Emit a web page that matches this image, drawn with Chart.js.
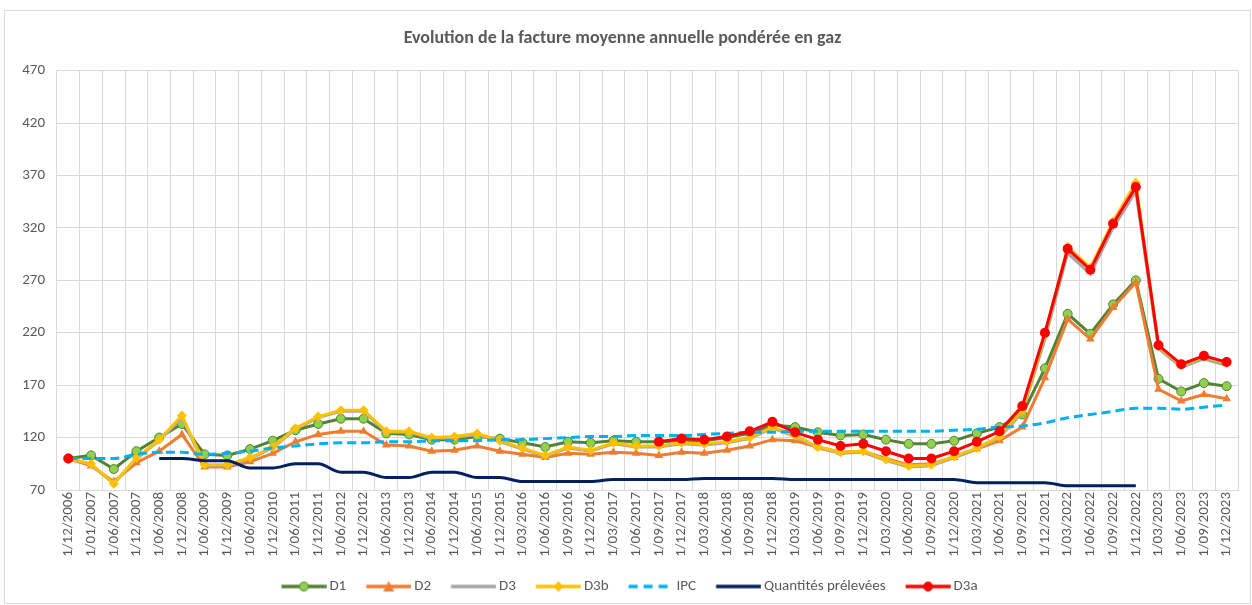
<!DOCTYPE html>
<html>
<head>
<meta charset="utf-8">
<script src="https://cdn.jsdelivr.net/npm/chart.js@4.4.1/dist/chart.umd.min.js"></script>
<style>
  html, body { margin: 0; padding: 0; background: #fff; }
  #wrap { width: 1252px; height: 605px; position: relative; }
</style>
</head>
<body>
<div id="wrap"><canvas id="chart"></canvas></div>
<script>
const LABELS = [
  "1/12/2006", "1/01/2007", "1/06/2007", "1/12/2007", "1/06/2008", "1/12/2008",
  "1/06/2009", "1/12/2009", "1/06/2010", "1/12/2010", "1/06/2011", "1/12/2011",
  "1/06/2012", "1/12/2012", "1/06/2013", "1/12/2013", "1/06/2014", "1/12/2014",
  "1/06/2015", "1/12/2015", "1/03/2016", "1/06/2016", "1/09/2016", "1/12/2016",
  "1/03/2017", "1/06/2017", "1/09/2017", "1/12/2017", "1/03/2018", "1/06/2018",
  "1/09/2018", "1/12/2018", "1/03/2019", "1/06/2019", "1/09/2019", "1/12/2019",
  "1/03/2020", "1/06/2020", "1/09/2020", "1/12/2020", "1/03/2021", "1/06/2021",
  "1/09/2021", "1/12/2021", "1/03/2022", "1/06/2022", "1/09/2022", "1/12/2022",
  "1/03/2023", "1/06/2023", "1/09/2023", "1/12/2023",
];

const D1 = [
  100, 103, 90, 107, 120, 133, 104, 103, 109, 117, 127, 133,
  138, 138, 124, 123, 118, 118, 121, 119, 115, 111, 116, 115,
  117, 116, 116, 117, 117, 120, 124, 132, 130, 125, 122, 123,
  118, 114, 114, 117, 124, 130, 142, 186, 238, 219, 247, 270,
  176, 164, 172, 169,
];

const D2 = [
  100, 93, 78, 96, 107, 123, 92, 92, 97, 105, 116, 123,
  126, 126, 113, 112, 107, 108, 112, 107, 104, 101, 105, 104,
  106, 105, 103, 106, 105, 108, 112, 118, 117, 111, 106, 107,
  100, 94, 95, 101, 109, 117, 130, 177, 233, 214, 244, 268,
  166, 155, 161, 157,
];

const D3 = [
  100, 94, 76, 100, 117, 139, 93, 93, 100, 110, 128, 139,
  145, 145, 125, 125, 119, 120, 123, 116, 109, 102, 110, 107,
  114, 111, 111, 114, 113, 115, 119, 129, 121, 110, 105, 106,
  98, 92, 93, 101, 109, 120, 144, 214, 296, 276, 320, 355,
  205, 187, 195, 189,
];

const D3B = [
  100, 95, 76, 101, 118, 141, 94, 94, 101, 111, 129, 140,
  146, 146, 126, 126, 120, 121, 124, 117, 110, 103, 111, 108,
  115, 112, 112, 115, 114, 116, 120, 130, 122, 111, 106, 107,
  99, 93, 94, 102, 110, 121, 146, 218, 302, 282, 326, 363,
  207, 189, 197, 191,
];

const IPC = [
  100, 100, 100, 104, 106, 106, 104, 105, 107, 110, 112, 114,
  115, 115, 116, 116, 117, 117, 117, 118, 118, 119, 120, 121,
  121, 122, 122, 122, 123, 124, 125, 125, 126, 126, 126, 126,
  126, 126, 126, 127, 128, 130, 131, 134, 139, 142, 145, 148,
  148, 147, 149, 151,
];

const QUANTITES = [
  null, null, null, null, 100, 100, 98, 98, 91, 91, 95, 95,
  87, 87, 82, 82, 87, 87, 82, 82, 78, 78, 78, 78,
  80, 80, 80, 80, 81, 81, 81, 81, 80, 80, 80, 80,
  80, 80, 80, 80, 77, 77, 77, 77, 74, 74, 74, 74,
  null, null, null, null,
];

const D3A = [
  100, null, null, null, null, null, null, null, null, null, null, null,
  null, null, null, null, null, null, null, null, null, null, null, null,
  null, null, 116, 119, 118, 121, 126, 135, 125, 118, 112, 114,
  107, 100, 100, 107, 116, 126, 150, 220, 300, 280, 324, 359,
  208, 190, 198, 192,
];

const Y_TICKS = [70, 120, 170, 220, 270, 320, 370, 420, 470];

const TEXT_COLOR = "#595959";
const GRID_COLOR = "#d9d9d9";
const FONT_FAMILY = "Calibri, Carlito, 'Liberation Sans', Arial, sans-serif";

// legend sample: short line with the marker in the middle, like Excel.
// the image is wider than the drawn sample so the gaps come out right
const ICON_W = 64;
const ICON_X0 = 18.75;

function legendIcon(color, marker, fill, dash) {
  const c = document.createElement("canvas");
  c.width = ICON_W;
  c.height = 12;
  const ctx = c.getContext("2d");
  const x0 = ICON_X0;
  const mid = x0 + 22.5;
  ctx.strokeStyle = color;
  ctx.lineWidth = 3.5;
  if (dash) ctx.setLineDash(dash);
  ctx.beginPath();
  ctx.moveTo(x0, 6);
  ctx.lineTo(x0 + 45, 6);
  ctx.stroke();
  ctx.setLineDash([]);
  ctx.fillStyle = fill || color;
  ctx.lineWidth = 1;
  if (marker === "circle") {
    ctx.beginPath();
    ctx.arc(mid, 6, 4.5, 0, Math.PI * 2);
    ctx.fill();
    ctx.stroke();
  } else if (marker === "triangle") {
    ctx.beginPath();
    ctx.moveTo(mid, 0.5);
    ctx.lineTo(mid + 5.5, 11);
    ctx.lineTo(mid - 5.5, 11);
    ctx.closePath();
    ctx.fill();
  } else if (marker === "diamond") {
    ctx.beginPath();
    ctx.moveTo(mid, 0.5);
    ctx.lineTo(mid + 5, 6);
    ctx.lineTo(mid, 11.5);
    ctx.lineTo(mid - 5, 6);
    ctx.closePath();
    ctx.fill();
  }
  return c;
}

const ICONS = [
  legendIcon("#548235", "circle", "#8fd14f"),
  legendIcon("#ed7d31", "triangle"),
  legendIcon("#a5a5a5", null),
  legendIcon("#ffc000", "diamond"),
  legendIcon("#00b0f0", null, null, [9, 6]),
  legendIcon("#002060", null),
  legendIcon("#ff0000", "circle"),
];

const frame = {
  id: "frame",
  beforeDraw(chart) {
    const ctx = chart.ctx;
    ctx.save();
    ctx.fillStyle = "#fff";
    ctx.fillRect(0, 0, chart.width, chart.height);
    ctx.strokeStyle = GRID_COLOR;
    ctx.lineWidth = 1;
    ctx.strokeRect(4.5, 10.5, 1246, 593);
    ctx.restore();
  },
};

function series(label, data, color, extra) {
  return {
    label,
    data,
    borderColor: color,
    backgroundColor: color,
    borderWidth: 3,
    pointRadius: 0,
    pointHoverRadius: 0,
    spanGaps: false,
    tension: 0,
    ...extra,
  };
}

Chart.defaults.font.family = FONT_FAMILY;
Chart.defaults.color = TEXT_COLOR;

new Chart(document.getElementById("chart"), {
  type: "line",
  data: {
    labels: LABELS,
    datasets: [
      series("D1", D1, "#548235", {
        order: 7, pointStyle: "circle", pointRadius: 4.5, pointBorderWidth: 1,
        pointBackgroundColor: "#8fd14f", pointBorderColor: "#548235",
      }),
      series("D2", D2, "#ed7d31", {
        order: 6, pointStyle: "triangle", pointRadius: 5, pointBorderWidth: 0,
      }),
      series("D3", D3, "#a5a5a5", { order: 5 }),
      series("D3b", D3B, "#ffc000", {
        order: 4, pointStyle: "rectRot", pointRadius: 5, pointBorderWidth: 0,
      }),
      series("IPC", IPC, "#00b0f0", {
        order: 3, borderDash: [9, 5], cubicInterpolationMode: "monotone",
      }),
      series("Quantités prélevées", QUANTITES, "#002060", {
        order: 2, cubicInterpolationMode: "monotone",
      }),
      series("D3a", D3A, "#ff0000", {
        order: 1, pointStyle: "circle", pointRadius: 5, pointBorderWidth: 0,
      }),
    ],
  },
  options: {
    responsive: true,
    maintainAspectRatio: false,
    animation: false,
    layout: { padding: { left: 7, right: 14, top: 0, bottom: 1 } },
    plugins: {
      tooltip: { enabled: false },
      title: {
        display: true,
        text: "Evolution de la facture moyenne annuelle pondérée en gaz",
        color: TEXT_COLOR,
        font: { size: 18, weight: "bold" },
        padding: { top: 28, bottom: 21 },
      },
      legend: {
        position: "bottom",
        labels: {
          usePointStyle: true,
          pointStyleWidth: 54.5,
          boxHeight: 12,
          padding: 6,
          color: TEXT_COLOR,
          font: { size: 15 },
          sort: (a, b) => a.datasetIndex - b.datasetIndex,
          generateLabels(chart) {
            const items = Chart.defaults.plugins.legend.labels.generateLabels(chart);
            items.forEach((it) => { it.pointStyle = ICONS[it.datasetIndex]; });
            return items;
          },
        },
      },
    },
    scales: {
      x: {
        offset: true,
        grid: { color: GRID_COLOR, offset: true, drawTicks: false },
        border: { color: GRID_COLOR },
        ticks: {
          autoSkip: false,
          maxRotation: 90,
          minRotation: 90,
          color: TEXT_COLOR,
          font: { size: 15 },
          padding: 2,
        },
        afterFit(scale) { scale.height = 83; },
      },
      y: {
        min: 70,
        max: 470,
        afterBuildTicks(scale) { scale.ticks = Y_TICKS.map((v) => ({ value: v })); },
        grid: { color: GRID_COLOR, drawTicks: false },
        border: { display: false },
        ticks: { color: TEXT_COLOR, font: { size: 15 }, padding: 12 },
        afterFit(scale) { scale.width = 50; },
      },
    },
  },
  plugins: [frame],
});
</script>
</body>
</html>
